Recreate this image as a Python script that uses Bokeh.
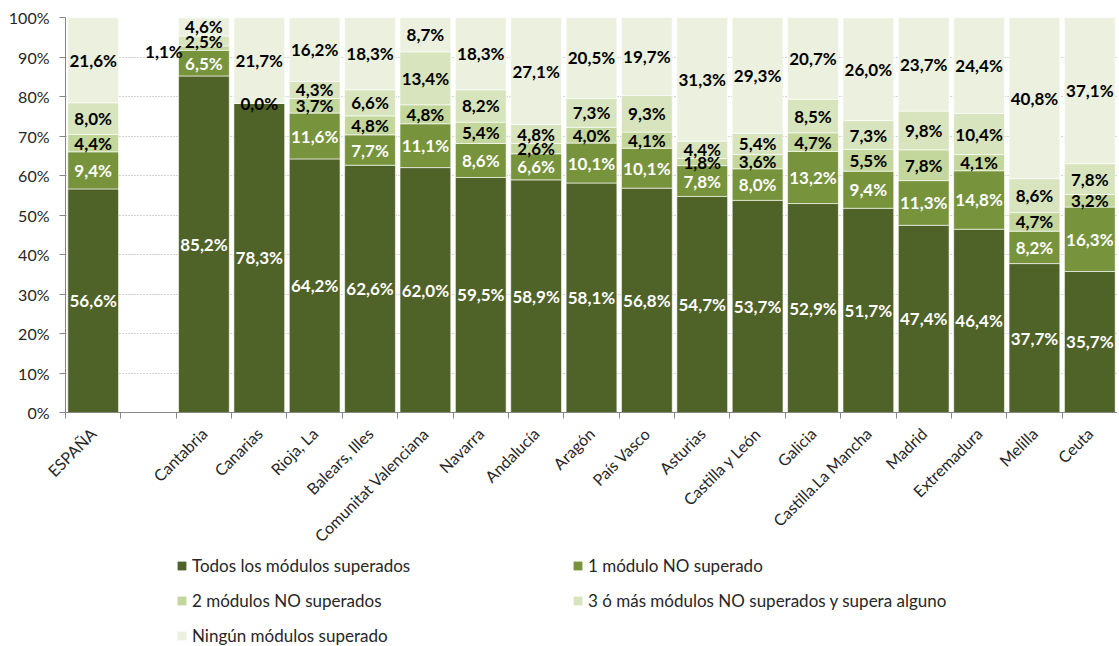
import math
from bokeh.plotting import figure
from bokeh.layouts import column
from bokeh.models import ColumnDataSource, Range1d, FixedTicker, Legend, LegendItem
from bokeh.core.properties import value
from bokeh.embed import file_html
from bokeh.resources import INLINE

categories = ["ESPAÑA", "", "Cantabria", "Canarias", "Rioja, La", "Balears, Illes",
              "Comunitat Valenciana", "Navarra", "Andalucía", "Aragón", "País Vasco",
              "Asturias", "Castilla y León", "Galicia", "Castilla.La Mancha", "Madrid",
              "Extremadura", "Melilla", "Ceuta"]
todos = [56.6, 0, 85.2, 78.3, 64.2, 62.6, 62.0, 59.5, 58.9, 58.1, 56.8, 54.7, 53.7, 52.9, 51.7, 47.4, 46.4, 37.7, 35.7]
uno = [9.4, 0, 6.5, 0.0, 11.6, 7.7, 11.1, 8.6, 6.6, 10.1, 10.1, 7.8, 8.0, 13.2, 9.4, 11.3, 14.8, 8.2, 16.3]
dos = [4.4, 0, 1.1, 0.0, 3.7, 4.8, 4.8, 5.4, 2.6, 4.0, 4.1, 1.8, 3.6, 4.7, 5.5, 7.8, 4.1, 4.7, 3.2]
tres = [8.0, 0, 2.5, 0.0, 4.3, 6.6, 13.4, 8.2, 4.8, 7.3, 9.3, 4.4, 5.4, 8.5, 7.3, 9.8, 10.4, 8.6, 7.8]
ninguno = [21.6, 0, 4.6, 21.7, 16.2, 18.3, 8.7, 18.3, 27.1, 20.5, 19.7, 31.3, 29.3, 20.7, 26.0, 23.7, 24.4, 40.8, 37.1]

series_names = ["Todos los módulos superados", "1 módulo NO superado", "2 módulos NO superados",
                "3 ó más módulos NO superados y supera alguno", "Ningún módulos superado"]
series_colors = ["#4F6228", "#77933C", "#C3D69B", "#D7E4BD", "#EBF1DE"]
label_colors = ["white", "white", "black", "black", "black"]
y_ticks = [0, 10, 20, 30, 40, 50, 60, 70, 80, 90, 100]

FONT = "Lato"
W = 1117
series = [todos, uno, dos, tres, ninguno]
keys = ["s0", "s1", "s2", "s3", "s4"]
n = len(categories)
xs = [i + 0.5 for i in range(n)]

data = {"x": xs}
for k, s in zip(keys, series):
    data[k] = s
source = ColumnDataSource(data)

p = figure(width=W, height=555, x_range=Range1d(0, n), y_range=Range1d(0, 100),
           output_backend="svg", toolbar_location=None,
           min_border_left=65, min_border_right=0, min_border_top=17, min_border_bottom=139)
p.outline_line_color = None
p.background_fill_color = "white"
p.border_fill_color = "white"

renderers = p.vbar_stack(keys, x="x", width=0.917, color=series_colors, source=source,
                         line_color="white", line_width=1, line_alpha=0.6)

# data labels
lx, ly, lt, lc, lxo, lyo = [], [], [], [], [], []
offsets = {("Cantabria", 2): (-40, 3)}
for i, cat in enumerate(categories):
    if cat == "":
        continue
    bottoms = [0]
    for s in series:
        bottoms.append(bottoms[-1] + s[i])
    labeled = set()
    for j in reversed(range(len(series))):
        v = series[j][i]
        yc = bottoms[j] + v / 2
        if v == 0 and round(yc, 3) in labeled:
            continue
        labeled.add(round(yc, 3))
        ox, oy = offsets.get((cat, j), (0, 0))
        lx.append(xs[i]); ly.append(yc)
        lt.append(f"{v:.1f}%".replace(".", ","))
        lc.append(label_colors[j] if v > 0 else "black")
        lxo.append(ox); lyo.append(oy)

lsrc = ColumnDataSource(dict(x=lx, y=ly, text=lt, color=lc, xo=lxo, yo=lyo))
p.text(x="x", y="y", text="text", source=lsrc, text_color="color",
       x_offset="xo", y_offset="yo",
       text_align="center", text_baseline="middle",
       text_font=value(FONT), text_font_style="bold", text_font_size="17px")

# grid
p.xgrid.visible = False
p.ygrid.ticker = FixedTicker(ticks=y_ticks)
p.ygrid.grid_line_color = "#A6A6A6"
p.ygrid.grid_line_dash = "1 2"
p.ygrid.grid_line_width = 1

# y axis
p.yaxis.ticker = FixedTicker(ticks=y_ticks)
p.yaxis.major_label_overrides = {t: f"{t}%" for t in y_ticks}
p.yaxis.axis_line_color = "#868686"
p.yaxis.major_tick_line_color = "#868686"
p.yaxis.major_tick_in = 0
p.yaxis.major_tick_out = 6
p.yaxis.minor_tick_line_color = None
p.yaxis.major_label_standoff = 10
p.yaxis.major_label_text_font = FONT
p.yaxis.major_label_text_font_size = "16px"
p.yaxis.major_label_text_color = "#262626"

# x axis
p.xaxis.ticker = FixedTicker(ticks=xs, minor_ticks=list(range(n + 1)))
p.xaxis.major_label_overrides = {x: c for x, c in zip(xs, categories)}
p.xaxis.axis_line_color = "#868686"
p.xaxis.major_tick_line_color = None
p.xaxis.major_tick_in = 0
p.xaxis.major_tick_out = 0
p.xaxis.minor_tick_line_color = "#868686"
p.xaxis.minor_tick_in = 0
p.xaxis.minor_tick_out = 6
p.xaxis.major_label_orientation = math.pi / 4
p.xaxis.major_label_standoff = 12
p.xaxis.major_label_text_font = FONT
p.xaxis.major_label_text_font_size = "16px"
p.xaxis.major_label_text_color = "#262626"

# legend in its own strip below the chart (its bars lie outside its visible range)
p2 = figure(width=W, height=91, x_range=Range1d(-1000, -999), y_range=Range1d(0, 1),
            output_backend="svg", toolbar_location=None,
            min_border_left=0, min_border_right=0, min_border_top=0, min_border_bottom=0)
p2.axis.visible = False
p2.grid.visible = False
p2.outline_line_color = None
legend_renderers = p2.vbar_stack(keys, x="x", width=0.917, fill_color=series_colors,
                                 line_color=None, source=source)
order = [0, 2, 4, 1, 3]  # column-major fill -> row-major appearance
items = [LegendItem(label=series_names[k], renderers=[legend_renderers[k]]) for k in order]
legend = Legend(items=items, ncols=2, location=(111, 0),
                padding=0, margin=0, spacing=14, label_standoff=5,
                glyph_width=11, glyph_height=11, label_height=21, label_width=366,
                border_line_color=None, background_fill_alpha=0,
                label_text_font=FONT, label_text_font_size="17px",
                label_text_color="#262626")
p2.add_layout(legend, "center")

layout = column(p, p2, spacing=0)
open("out.html", "w").write(file_html(layout, INLINE))
